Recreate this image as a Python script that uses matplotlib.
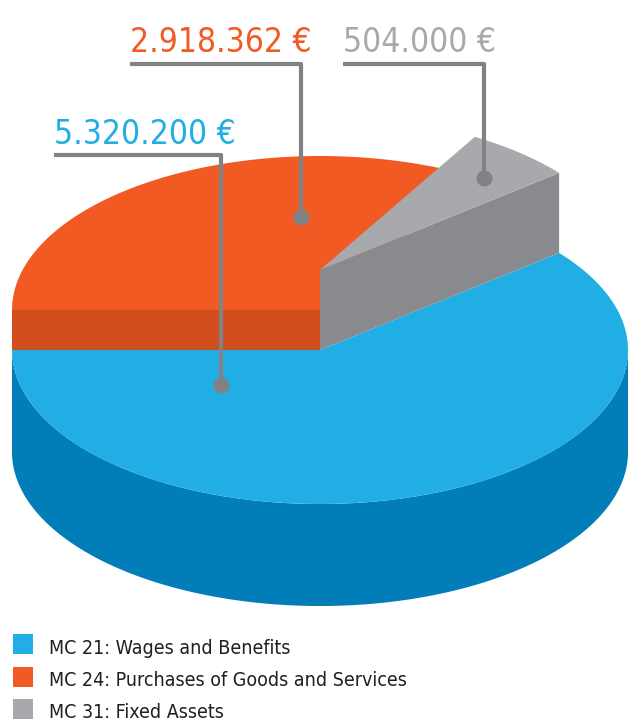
"""3D-style pie of MC budget lines (wages / purchases / fixed assets)."""
import numpy as np
import matplotlib
matplotlib.use('Agg')
import matplotlib.pyplot as plt
from matplotlib import font_manager as fm
from matplotlib.patches import Polygon, Rectangle

labels = ['MC 21: Wages and Benefits',
          'MC 24: Purchases of Goods and Services',
          'MC 31: Fixed Assets']
values = [5320200, 2918362, 504000]
top_colors = ['#21aee4', '#f15a22', '#a7a9ac']
side_colors = ['#017db7', '#d04e1b', '#898a8d']
text_colors = ['#21aee4', '#f15a22', '#a7a9ac']


# the original uses a condensed DIN-like face; grab the narrowest one we have
def pick_font():
    fonts = fm.fontManager.ttflist
    for f in fonts:
        if f.name == 'Liberation Sans Narrow' and f.weight in (400, 'normal') and f.style == 'normal':
            return fm.FontProperties(fname=f.fname), True
    for f in fonts:
        if f.stretch in ('condensed', 'semi-condensed') and f.style == 'normal' \
                and f.weight in (400, 'normal', 'book'):
            return fm.FontProperties(fname=f.fname), True
    return fm.FontProperties(family='DejaVu Sans'), False


FONT, NARROW = pick_font()
K = 1.0 if NARROW else 0.88

# geometry (pixels)
CX, CY = 320, 350
RX, RY = 308, 154
DEPTH = 102
LIFT = {'blue': 0, 'orange': 40, 'gray': 80}
LINE_C = '#808285'

fracs = np.array(values) / np.sum(values)
# blue starts at 180 deg and runs counter-clockwise through the front,
# then gray, then orange back to 180
a_blue0 = 180.0
a_blue1 = a_blue0 + fracs[0] * 360
a_gray0 = a_blue1 - 360
a_gray1 = a_gray0 + fracs[2] * 360
a_or0, a_or1 = a_gray1, 180.0


def arc(a0, a1, cy, n=200):
    t = np.radians(np.linspace(a0, a1, n))
    return np.column_stack([CX + RX * np.cos(t), cy - RY * np.sin(t)])


def pt(a, cy):
    t = np.radians(a)
    return [CX + RX * np.cos(t), cy - RY * np.sin(t)]


fig = plt.figure(figsize=(6.29, 7.21), dpi=100)
ax = fig.add_axes([0, 0, 1, 1])
ax.set_xlim(0, 629)
ax.set_ylim(721, 0)
ax.axis('off')

# blue slice: front side then top face
side = np.vstack([arc(180, 360, CY), arc(360, 180, CY + DEPTH)])
ax.add_patch(Polygon(side, closed=True, fc=side_colors[0], ec='none'))
ax.add_patch(Polygon(np.vstack([[CX, CY], arc(a_blue0, a_blue1, CY)]),
                     closed=True, fc=top_colors[0], ec='none'))

# orange slice, lifted: radial face at 180 deg, then top
cy_o = CY - LIFT['orange']
ax.add_patch(Polygon([pt(180, cy_o), [CX, cy_o], [CX, CY], pt(180, CY)],
                     closed=True, fc=side_colors[1], ec='none'))
ax.add_patch(Polygon(np.vstack([[CX, cy_o], arc(a_or0, a_or1, cy_o)]),
                     closed=True, fc=top_colors[1], ec='none'))

# gray slice, lifted more
cy_g = CY - LIFT['gray']
ax.add_patch(Polygon([[CX, cy_g], pt(a_gray0, cy_g), pt(a_gray0, CY), [CX, CY]],
                     closed=True, fc=side_colors[2], ec='none'))
ax.add_patch(Polygon(np.vstack([[CX, cy_g], arc(a_gray0, a_gray1, cy_g)]),
                     closed=True, fc=top_colors[2], ec='none'))

# value labels with leader lines
fmt = lambda v: f"{v:,}".replace(',', '.') + ' €'
label_pos = [(54, 144), (130, 52), (343, 52)]      # text anchor (left, baseline)
leaders = [[(54, 155), (221, 155), (221, 385)],
           [(130, 64), (301, 64), (301, 217)],
           [(343, 64), (484, 64), (484, 178)]]
for v, (tx, ty), path, c in zip(values, label_pos, leaders, text_colors):
    ax.text(tx, ty, fmt(v), color=c, fontproperties=FONT, fontsize=24 * K,
            ha='left', va='baseline')
    xs, ys = zip(*path)
    ax.plot(xs, ys, color=LINE_C, lw=3, solid_capstyle='butt', zorder=5)
    ax.plot(xs[-1], ys[-1], 'o', color=LINE_C, ms=11.5, mec='none', zorder=6)

# legend
for i, (lab, c) in enumerate(zip(labels, top_colors)):
    y0 = 634 + i * 32.5
    ax.add_patch(Rectangle((13, y0), 20, 20, fc=c, ec='none'))
    ax.text(49, y0 + 19.5, lab, color='#231f20', fontproperties=FONT,
            fontsize=14 * K, ha='left', va='baseline')

fig.savefig('out.png', dpi=100)
